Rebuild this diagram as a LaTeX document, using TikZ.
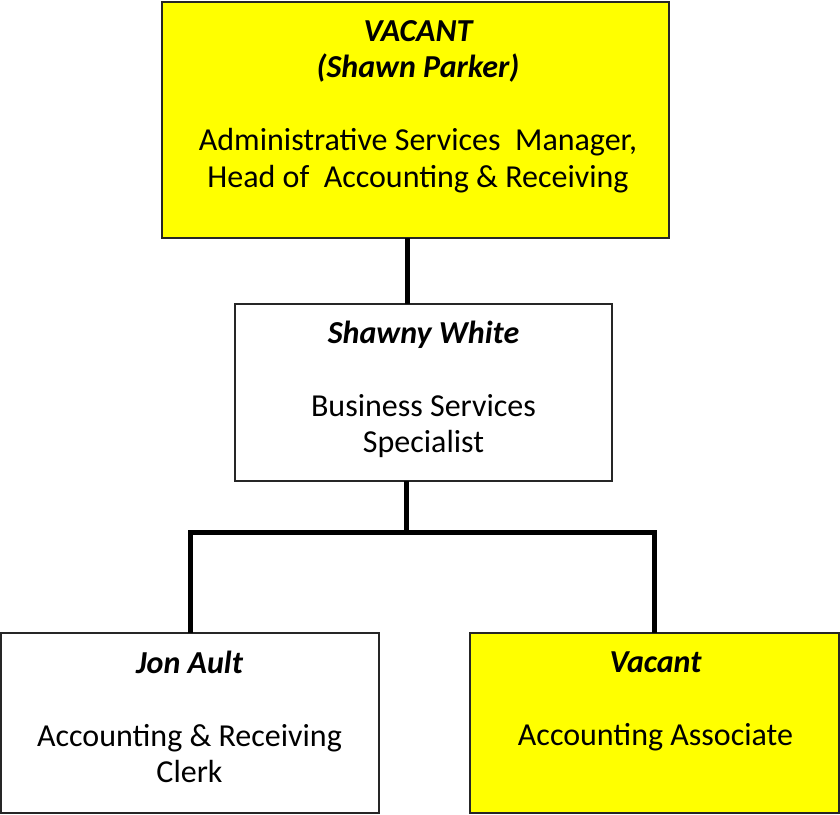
\documentclass[tikz,border=0pt]{standalone}
\usepackage{fontspec}
\setmainfont{Carlito}
\definecolor{vacyellow}{RGB}{255,255,0}
\begin{document}
\begin{tikzpicture}[x=1pt,y=-1pt,
  box/.style={draw=black!85, line width=1.6pt, rectangle, inner sep=0pt, outer sep=0pt},
  vacbox/.style={box, fill=vacyellow},
  plainbox/.style={box, fill=white},
  txt/.style={align=center, font=\fontsize{32}{36.5}\selectfont, inner sep=0pt, anchor=base},
  conn/.style={line width=5pt, black}]
\useasboundingbox (0,0) rectangle (840,814);
% boxes
\node[vacbox, minimum width=507pt, minimum height=236pt] (top) at (415.5,120) {};
\node[plainbox, minimum width=377pt, minimum height=177pt] (mid) at (423.5,392.5) {};
\node[plainbox, minimum width=378pt, minimum height=180pt] (jon) at (190,723) {};
\node[vacbox, minimum width=369pt, minimum height=180pt] (vac) at (654.5,723) {};
% texts (anchored at the baseline of their last line)
\node[txt] (toptext) at (418,187) {{\bfseries\itshape VACANT}\\{\bfseries\itshape (Shawn Parker)}\\[36.5pt]Administrative Services\ \ Manager,\\Head of\ \ Accounting \& Receiving};
\node[txt] (midtext) at (423.5,452.7) {{\bfseries\itshape Shawny White}\\[36.5pt]Business Services\\Specialist};
\node[txt] (jontext) at (189.5,782.7) {{\bfseries\itshape Jon Ault}\\[36.5pt]Accounting \& Receiving\\Clerk};
\node[txt] (vactext) at (655.5,745) {{\bfseries\itshape Vacant}\\[36.5pt]Accounting Associate};
% connectors
\coordinate (c1) at (407,0);
\coordinate (bus) at (406,532);
\draw[conn] (top.south -| c1) -- (mid.north -| c1);
\draw[conn] (mid.south -| bus) -- (bus);
\draw[conn] (jon.north) |- (bus) -| (vac.north);
\end{tikzpicture}
\end{document}
